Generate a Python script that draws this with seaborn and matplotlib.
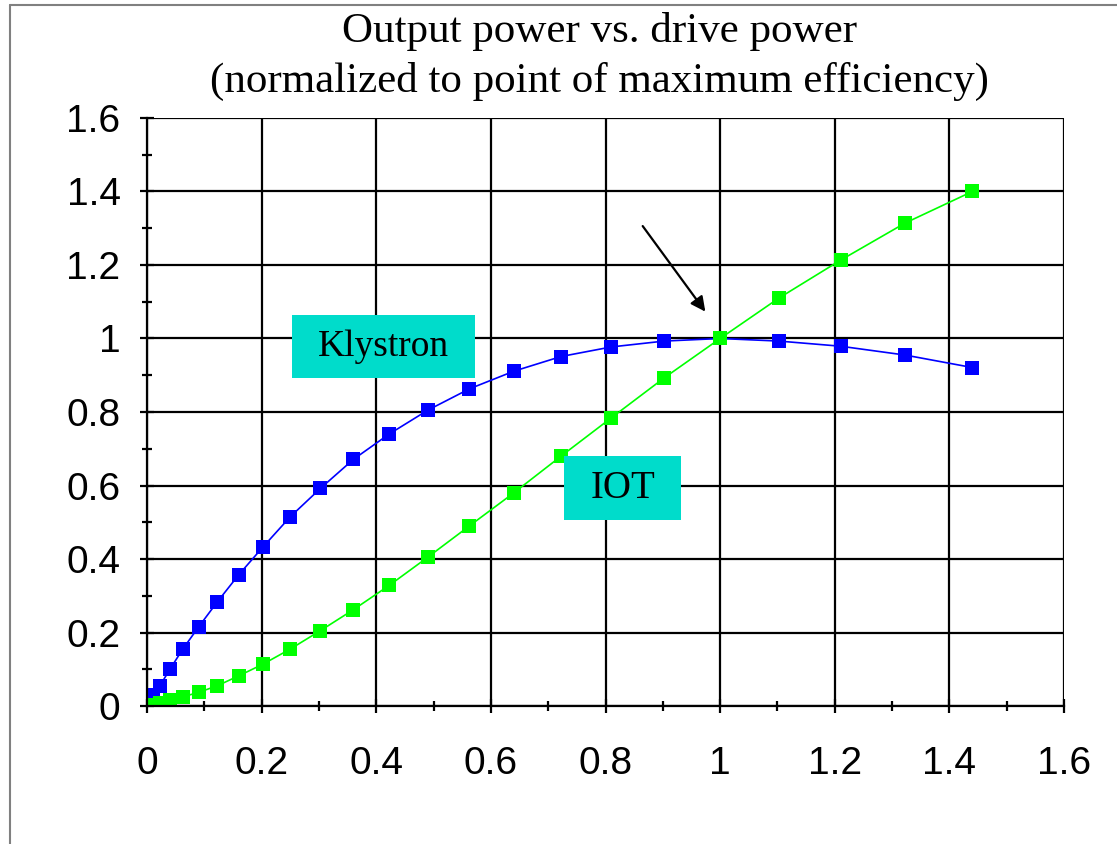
import numpy as np
import pandas as pd
import matplotlib
matplotlib.use("Agg")
import matplotlib.pyplot as plt
import seaborn as sns
from matplotlib.patches import Rectangle
from matplotlib.ticker import MultipleLocator, FormatStrFormatter

# drive power (normalized) - same sample points for both tubes
drive = [0.0, 0.0025, 0.01, 0.0225, 0.04, 0.0625, 0.09, 0.1225, 0.16, 0.2025,
         0.25, 0.3025, 0.36, 0.4225, 0.49, 0.5625, 0.64, 0.7225, 0.81, 0.9025,
         1.0, 1.1025, 1.21, 1.3225, 1.44]

klystron = [0.0, 0.02, 0.03, 0.055, 0.10, 0.155, 0.215, 0.283, 0.357, 0.433,
            0.515, 0.592, 0.671, 0.74, 0.805, 0.863, 0.911, 0.951, 0.977, 0.993,
            1.0, 0.993, 0.979, 0.955, 0.921]

iot = [0.0, 0.001, 0.004, 0.009, 0.016, 0.025, 0.037, 0.055, 0.082, 0.114,
       0.155, 0.205, 0.262, 0.328, 0.405, 0.49, 0.58, 0.68, 0.784, 0.893,
       1.0, 1.11, 1.213, 1.314, 1.40]

df = pd.concat([
    pd.DataFrame({"drive": drive, "output": klystron, "tube": "Klystron"}),
    pd.DataFrame({"drive": drive, "output": iot, "tube": "IOT"}),
])

sns.set_theme(style="white")
plt.rcParams["font.family"] = ["Liberation Sans", "DejaVu Sans"]
plt.rcParams["text.color"] = "black"
plt.rcParams["xtick.color"] = "black"
plt.rcParams["ytick.color"] = "black"

fig = plt.figure(figsize=(11.17, 8.44), dpi=100)
ax = fig.add_axes([0.1316, 0.1635, 0.821, 0.6967])

sns.lineplot(data=df, x="drive", y="output", hue="tube",
             palette={"Klystron": "#0000ff", "IOT": "#00ff00"},
             marker="s", markersize=10, markeredgewidth=0, linewidth=1.2,
             sort=False, legend=False, ax=ax)

ax.set_xlim(0, 1.6)
ax.set_ylim(0, 1.6)
ax.xaxis.set_major_locator(MultipleLocator(0.2))
ax.yaxis.set_major_locator(MultipleLocator(0.2))
ax.xaxis.set_minor_locator(MultipleLocator(0.1))
ax.yaxis.set_minor_locator(MultipleLocator(0.1))
ax.xaxis.set_major_formatter(FormatStrFormatter("%g"))
ax.yaxis.set_major_formatter(FormatStrFormatter("%g"))
ax.grid(True, which="major", color="black", linewidth=1.6)
ax.set_axisbelow(True)
for side in ["top", "right"]:
    ax.spines[side].set_visible(False)
for side in ["left", "bottom"]:
    ax.spines[side].set_color("black")
    ax.spines[side].set_linewidth(1.6)
ax.tick_params(which="both", direction="inout", color="black", width=1.6,
               labelsize=28, labelcolor="black", left=True, bottom=True)
ax.tick_params(which="major", length=10)
ax.tick_params(which="minor", length=7)
ax.tick_params(axis="y", which="major", pad=14)
ax.tick_params(axis="x", which="major", pad=24)
ax.set_xlabel("")
ax.set_ylabel("")

serif = ["Liberation Serif", "DejaVu Serif"]
fig.text(0.537, 0.963, "Output power vs. drive power", ha="center", va="center",
         fontsize=31, family=serif)
fig.text(0.537, 0.903, "(normalized to point of maximum efficiency)", ha="center",
         va="center", fontsize=31, family=serif)

# label boxes
ax.add_patch(Rectangle((0.253, 0.893), 0.319, 0.171, facecolor="#00dccb",
                       edgecolor="none", zorder=3))
ax.text(0.4125, 0.978, "Klystron", ha="center", va="center", fontsize=27,
        family=serif, zorder=4)
ax.add_patch(Rectangle((0.728, 0.506), 0.204, 0.174, facecolor="#00dccb",
                       edgecolor="none", zorder=3))
ax.text(0.830, 0.593, "IOT", ha="center", va="center", fontsize=28,
        family=serif, zorder=4)

ax.annotate("", xy=(0.977, 1.067), xytext=(0.862, 1.312),
            arrowprops=dict(arrowstyle="-|>", color="black", lw=1.6,
                            mutation_scale=22))

# partial frame (top and left edges of the slide border)
fig.add_artist(plt.Line2D([0.009, 1.0], [0.994, 0.994], color="#808080", lw=1.5,
                          transform=fig.transFigure))
fig.add_artist(plt.Line2D([0.009, 0.009], [0.0, 0.994], color="#808080", lw=1.5,
                          transform=fig.transFigure))

fig.savefig("out.png", dpi=100)
